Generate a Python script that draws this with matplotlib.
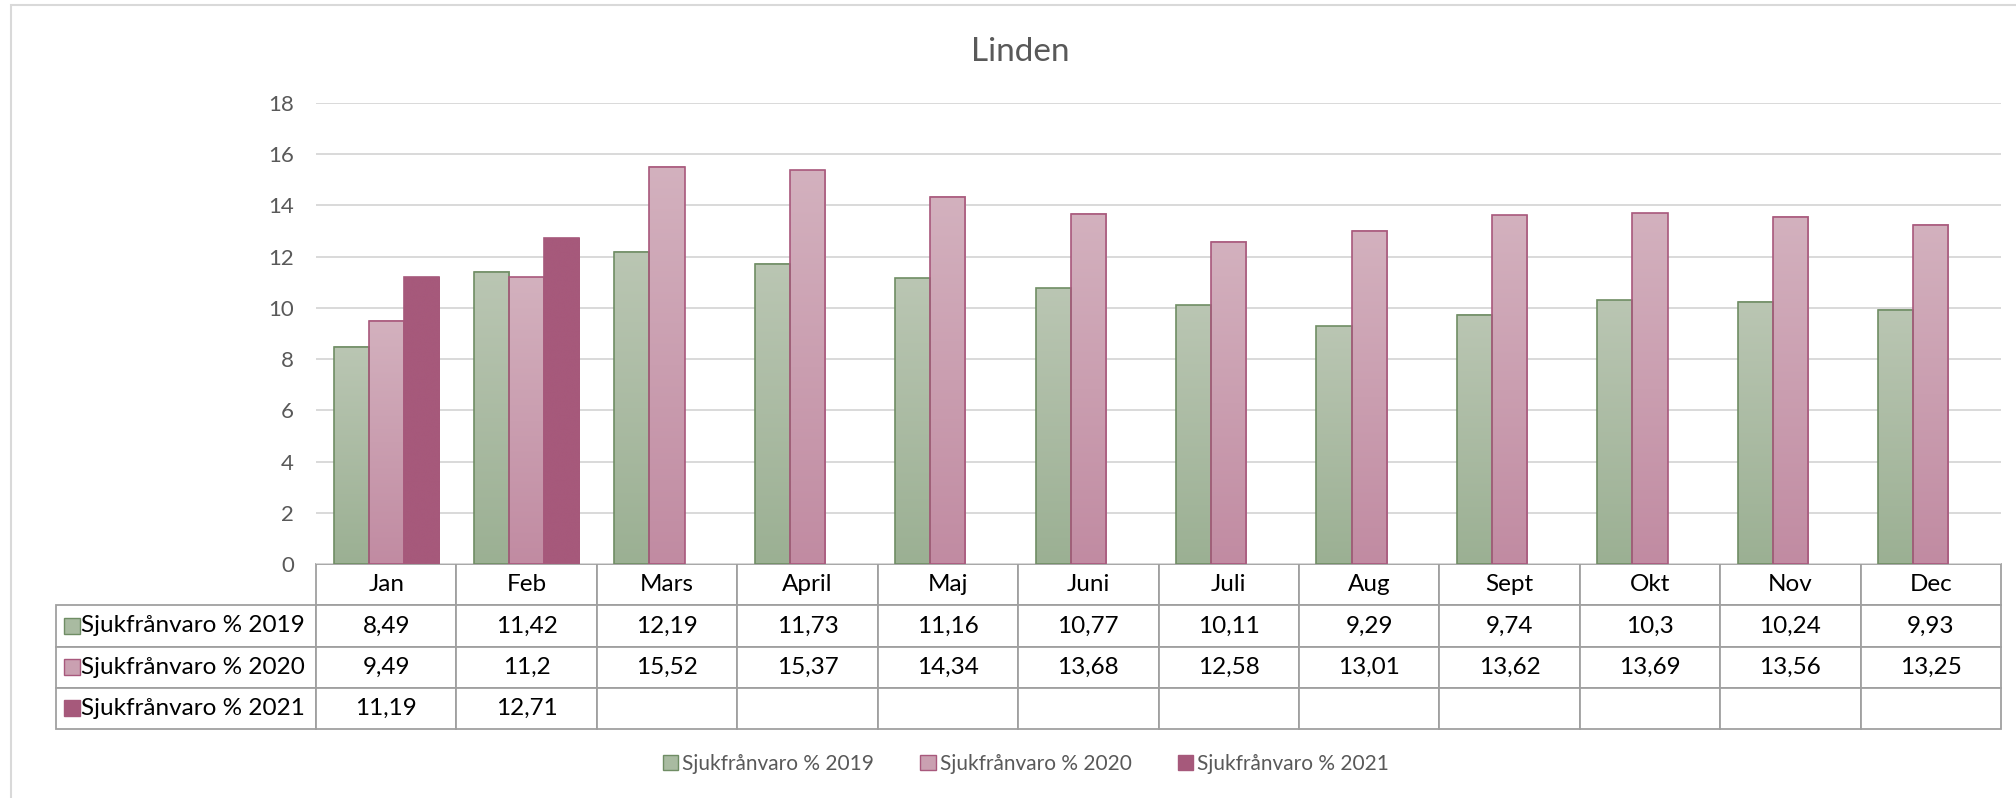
import numpy as np
import matplotlib
matplotlib.use("Agg")
import matplotlib.pyplot as plt
from matplotlib.patches import Patch, Rectangle
from matplotlib.colors import LinearSegmentedColormap

plt.rcParams['font.family'] = ['Lato', 'DejaVu Sans']

# data
months = ['Jan', 'Feb', 'Mars', 'April', 'Maj', 'Juni', 'Juli', 'Aug', 'Sept', 'Okt', 'Nov', 'Dec']
series = ['Sjukfrånvaro % 2019', 'Sjukfrånvaro % 2020', 'Sjukfrånvaro % 2021']
v2019 = [8.49, 11.42, 12.19, 11.73, 11.16, 10.77, 10.11, 9.29, 9.74, 10.3, 10.24, 9.93]
v2020 = [9.49, 11.2, 15.52, 15.37, 14.34, 13.68, 12.58, 13.01, 13.62, 13.69, 13.56, 13.25]
v2021 = [11.19, 12.71]

# stil
grad_top = ['#bac6b3', '#d3b1be', '#a6597b']
grad_bot = ['#9bb093', '#c18ba2', '#a6597b']
edges = ['#6f8d64', '#a8587c', '#a6597b']
legend_face = ['#a9bba1', '#caa0b1', '#a6597b']

W, H = 2016, 798
fig = plt.figure(figsize=(W / 100, H / 100), dpi=100)
ax = fig.add_axes([316 / W, (H - 564) / H, 1685 / W, 461 / H])

x = np.arange(len(months))
bw = 0.25
all_vals = [v2019, v2020, v2021]
for i, vals in enumerate(all_vals):
    cmap = LinearSegmentedColormap.from_list('g%d' % i, [grad_bot[i], grad_top[i]])
    grad = np.linspace(0, 1, 256).reshape(-1, 1)
    for j, v in enumerate(vals):
        x0 = x[j] + (i - 1) * bw - bw / 2
        ax.imshow(grad, extent=(x0, x0 + bw, 0, v), origin='lower', aspect='auto',
                  cmap=cmap, zorder=2, interpolation='bicubic')
    ax.bar(x[:len(vals)] + (i - 1) * bw, vals, bw, fill=False,
           edgecolor=edges[i], linewidth=1.2, zorder=3)

ax.set_xlim(-0.5, len(months) - 0.5)
ax.set_ylim(0, 18)
ax.set_yticks(range(0, 19, 2))
ax.set_xticks([])
ax.grid(axis='y', color='#d9d9d9', linewidth=1.4, zorder=0)
ax.set_axisbelow(True)
for s in ax.spines.values():
    s.set_visible(False)
ax.tick_params(axis='y', length=0, pad=16, labelsize=16, labelcolor='#595959')

# tabell
def fmt(v):
    return ('%g' % v).replace('.', ',')

cell_text = []
for name, vals in zip(series, all_vals):
    cell_text.append([name] + [fmt(v) for v in vals] + [''] * (len(months) - len(vals)))

tx0 = (56 - 316) / 1685
th = 165 / 461
tbl = ax.table(cellText=cell_text, colLabels=[''] + months, cellLoc='center',
               colWidths=[260] + [1685 / 12] * 12,
               bbox=[tx0, -th, 1 - tx0, th])
tbl.auto_set_font_size(False)
tbl.set_fontsize(17.5)
for (r, c), cell in tbl.get_celld().items():
    cell.set_edgecolor('#a0a0a0')
    cell.set_linewidth(1.3)
    if r == 0 and c == 0:
        cell.visible_edges = ''
    if c == 0 and r > 0:
        cell.get_text().set_ha('left')
        cell.PAD = 0.096

# färgrutor i tabellen
rh = th / 4
for i in range(3):
    yc = -rh * (i + 1.5)
    sq = Rectangle(((64 - 316) / 1685, yc - 0.0175), 16 / 1685, 0.035,
                   transform=ax.transAxes, clip_on=False,
                   facecolor=legend_face[i], edgecolor=edges[i], linewidth=1.0, zorder=5)
    ax.add_patch(sq)

# legend
handles = [Patch(facecolor=legend_face[i], edgecolor=edges[i], linewidth=1.0) for i in range(3)]
fig.legend(handles, series, loc='center', bbox_to_anchor=(1026 / W, 1 - 764 / H), ncol=3,
           frameon=False, fontsize=15, labelcolor='#595959', handlelength=0.75,
           handleheight=0.75, handletextpad=0.2, columnspacing=2.2)

fig.text(1020 / W, 1 - 61 / H, 'Linden', ha='center', va='baseline', fontsize=24, color='#595959')

fig.patches.append(Rectangle((11 / W, -0.1), 1.2, 1.1 - 5 / H, transform=fig.transFigure,
                             fill=False, edgecolor='#d9d9d9', linewidth=1.5))

fig.savefig('out.png', dpi=100)
